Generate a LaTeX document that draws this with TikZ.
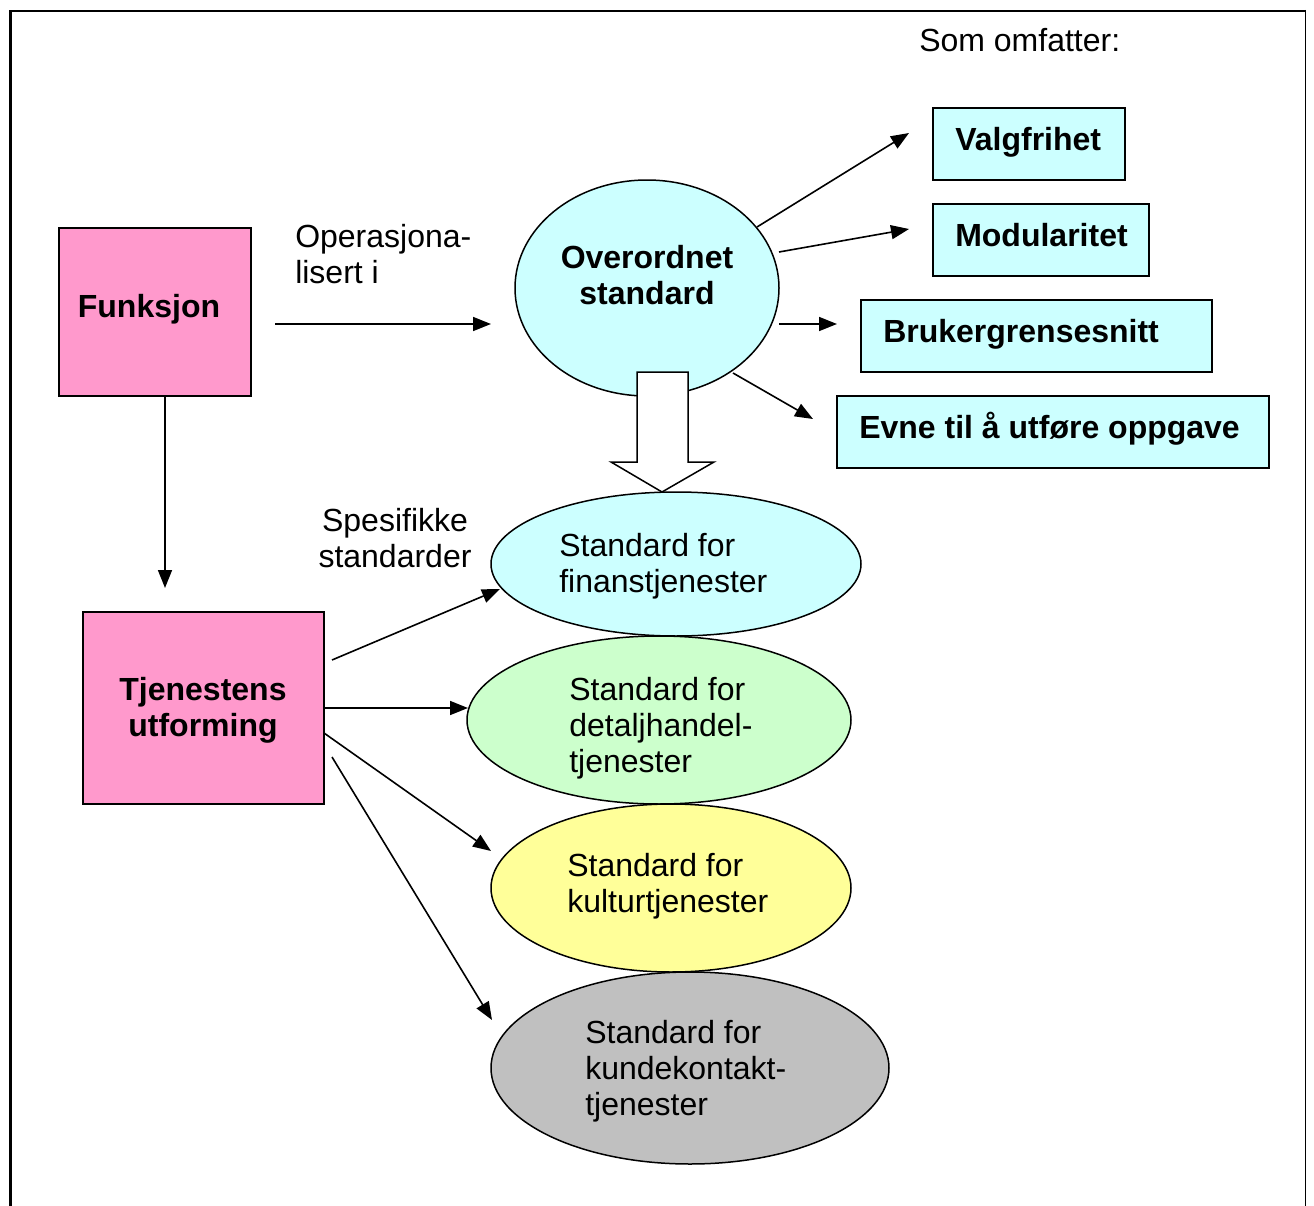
\documentclass[tikz,border=0pt]{standalone}
\usepackage{fontspec}
\setmainfont{Liberation Sans}
\usetikzlibrary{arrows.meta,shapes.geometric}
\definecolor{pinkc}{HTML}{FF99CC}
\definecolor{cyanc}{HTML}{CCFFFF}
\definecolor{greenc}{HTML}{CCFFCC}
\definecolor{yellowc}{HTML}{FFFF99}
\definecolor{grayc}{HTML}{C0C0C0}
\begin{document}
\begin{tikzpicture}[x=0.75pt,y=-0.75pt,
  lbl/.style={font=\fontsize{24}{27}\selectfont, inner sep=0pt, align=left},
  blbl/.style={font=\fontsize{24}{27}\selectfont\bfseries, inner sep=0pt, align=left},
  box/.style={draw, line width=1.125pt, rectangle, inner sep=0pt},
  ell/.style={draw, line width=1.125pt, ellipse, inner sep=0pt},
  arr/.style={line width=1.2pt, -{Triangle[length=13.5pt, width=10.5pt]}}]
\useasboundingbox (0,0) rectangle (1314,1206);
% frame
\draw[line width=2.25pt] (10.5,1210) -- (10.5,10);
\draw[line width=1.5pt] (9,11) -- (1305.5,11);
\draw[line width=1.125pt] (1305.5,10) -- (1305.5,1210);

% left boxes
\node[box, fill=pinkc, minimum width={192*0.75pt}, minimum height={168*0.75pt}] (funk) at (155,312) {};
\node[blbl, anchor=base, align=center] (funkt) at (149,317) {Funksjon};
\node[box, fill=pinkc, minimum width={241*0.75pt}, minimum height={192*0.75pt}] (tjen) at (203.5,708) {};
\node[blbl, anchor=base, align=center] (tjent) at (203,736) {Tjenestens\\utforming};

% overordnet
\node[ell, fill=cyanc, minimum width={264*0.75pt}, minimum height={216*0.75pt}] (ov) at (647,288) {};
\node[blbl, anchor=base, align=center] (ovt) at (647,304) {Overordnet\\standard};

% right boxes
\node[box, fill=cyanc, minimum width={192*0.75pt}, minimum height={72*0.75pt}] (b1) at (1029,144) {};
\node[blbl, anchor=base west] (b1t) at (955,150) {Valgfrihet};
\node[box, fill=cyanc, minimum width={216*0.75pt}, minimum height={72*0.75pt}] (b2) at (1041,240) {};
\node[blbl, anchor=base west] (b2t) at (955,246) {Modularitet};
\node[box, fill=cyanc, minimum width={351*0.75pt}, minimum height={72*0.75pt}] (b3) at (1036.5,336) {};
\node[blbl, anchor=base west] (b3t) at (883,342) {Brukergrensesnitt};
\node[box, fill=cyanc, minimum width={432*0.75pt}, minimum height={72*0.75pt}] (b4) at (1053,432) {};
\node[blbl, anchor=base west] (b4t) at (859,438) {Evne til å utføre oppgave};

% texts
\node[lbl, anchor=base west] (som) at (919,52) {Som omfatter:};
\node[lbl, anchor=base west] (oper) at (295,283) {Operasjona-\\lisert i};
\node[lbl, anchor=base, align=center] (spes) at (395,567) {Spesifikke\\standarder};

% specific ellipses
\node[ell, fill=cyanc, minimum width={370*0.75pt}, minimum height={144*0.75pt}] (e1) at (676,564) {};
\node[lbl, anchor=base west] (e1t) at (559,592) {Standard for\\finanstjenester};
\node[ell, fill=greenc, minimum width={384*0.75pt}, minimum height={168*0.75pt}] (e2) at (659,720) {};
\node[lbl, anchor=base west] (e2t) at (569,772) {Standard for\\detaljhandel-\\tjenester};
\node[ell, fill=yellowc, minimum width={360*0.75pt}, minimum height={168*0.75pt}] (e3) at (671,888) {};
\node[lbl, anchor=base west] (e3t) at (567,912) {Standard for\\kulturtjenester};
\node[ell, fill=grayc, minimum width={398*0.75pt}, minimum height={192*0.75pt}] (e4) at (690,1068) {};
\node[lbl, anchor=base west] (e4t) at (585,1115) {Standard for\\kundekontakt-\\tjenester};

% hollow arrow
\draw[line width=1.125pt, fill=white] (637,372) -- (688,372) -- (688,462) -- (714,462) -- (662,492) -- (611,462) -- (637,462) -- cycle;

% connector coordinates
\coordinate (opS) at (275,324);
\coordinate (opE) at (491,324);
\coordinate (fdS) at (165,396);
\coordinate (fdE) at (165,588);
\coordinate (a1S) at (757,227);
\coordinate (a1E) at (909,133);
\coordinate (a2S) at (779,252);
\coordinate (a2E) at (909,229);
\coordinate (a3S) at (779,324);
\coordinate (a3E) at (837,324);
\coordinate (a4S) at (733,373);
\coordinate (a4E) at (813,419);
\coordinate (t1S) at (332,660);
\coordinate (t1E) at (500,589);
\coordinate (t2S) at (324,708);
\coordinate (t2E) at (468,708);
\coordinate (t3S) at (324,733);
\coordinate (t3E) at (491,851);
\coordinate (t4S) at (332,757);
\coordinate (t4E) at (492,1020);

\draw[arr] (opS) -- (opE);
\draw[arr] (fdS) -- (fdE);
\draw[arr] (a1S) -- (a1E);
\draw[arr] (a2S) -- (a2E);
\draw[arr] (a3S) -- (a3E);
\draw[arr] (a4S) -- (a4E);
\draw[arr] (t1S) -- (t1E);
\draw[arr] (t2S) -- (t2E);
\draw[arr] (t3S) -- (t3E);
\draw[arr] (t4S) -- (t4E);
\end{tikzpicture}
\end{document}
